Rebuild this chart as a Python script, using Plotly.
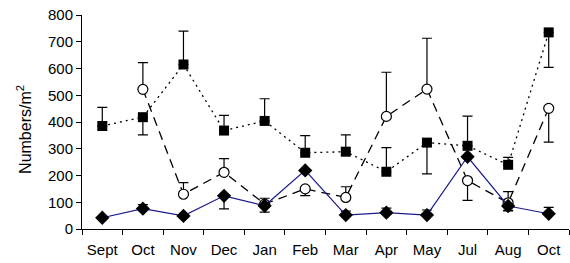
import plotly.graph_objects as go

months = ["Sept", "Oct", "Nov", "Dec", "Jan", "Feb", "Mar", "Apr", "May", "Jul", "Aug", "Oct "]
tick_text = ["Sept", "Oct", "Nov", "Dec", "Jan", "Feb", "Mar", "Apr", "May", "Jul", "Aug", "Oct"]

sq_vals = [385, 418, 615, 368, 404, 285, 289, 214, 323, 311, 240, 735]
sq_up = [70, 0, 125, 57, 83, 64, 63, 90, 0, 111, 28, 0]
sq_down = [0, 66, 0, 0, 0, 0, 0, 0, 117, 0, 0, 131]

ci_vals = [None, 522, 130, 212, 93, 150, 118, 421, 523, 181, 98, 451]
ci_up = [0, 100, 43, 51, 22, 0, 40, 165, 190, 0, 42, 0]
ci_down = [0, 0, 0, 0, 30, 25, 0, 0, 0, 74, 28, 126]

di_vals = [42, 76, 49, 124, 87, 219, 52, 61, 52, 270, 86, 57]
di_up = [0, 15, 0, 0, 0, 0, 15, 17, 19, 0, 0, 24]
di_down = [0, 0, 0, 49, 0, 0, 0, 0, 0, 0, 18, 0]

fig = go.Figure()

fig.add_trace(go.Scatter(
    x=months, y=sq_vals, mode="lines+markers",
    line=dict(color="black", width=1.3, dash="2px,4px"),
    marker=dict(symbol="square", size=10, color="black"),
    error_y=dict(type="data", symmetric=False, array=sq_up, arrayminus=sq_down,
                 color="black", thickness=1.2, width=5),
))

fig.add_trace(go.Scatter(
    x=months, y=ci_vals, mode="lines+markers",
    line=dict(color="black", width=1.3, dash="9px,6px"),
    marker=dict(symbol="circle", size=10, color="white", line=dict(color="black", width=1.2)),
    error_y=dict(type="data", symmetric=False, array=ci_up, arrayminus=ci_down,
                 color="black", thickness=1.2, width=5),
))

fig.add_trace(go.Scatter(
    x=months, y=di_vals, mode="lines+markers",
    line=dict(color="#1a1a8c", width=1.2),
    marker=dict(symbol="diamond", size=11, color="black"),
    error_y=dict(type="data", symmetric=False, array=di_up, arrayminus=di_down,
                 color="black", thickness=1.2, width=5),
))

fig.update_layout(
    width=570, height=263,
    margin=dict(l=82, r=1, t=15, b=34, autoexpand=False),
    paper_bgcolor="white", plot_bgcolor="white",
    showlegend=False,
    font=dict(family="Liberation Sans, Arial, sans-serif", size=15, color="black"),
    annotations=[dict(
        text="Numbers/m<sup>2</sup>", textangle=-90, showarrow=False,
        xref="paper", yref="paper", x=(24 - 82) / 487, y=0.463,
        xanchor="center", yanchor="middle", font=dict(size=16, color="black"),
    )],
)

fig.update_xaxes(
    type="category", range=[-0.5, 11.5], automargin=False, tickangle=0,
    tickmode="array", tickvals=months, ticktext=tick_text, ticklabelstandoff=7,
    tickson="boundaries", ticks="outside", ticklen=5, tickcolor="black", tickwidth=1,
    showline=True, linecolor="black", linewidth=1, showgrid=False, zeroline=False,
    tickfont=dict(size=15),
)

fig.update_yaxes(
    range=[0, 800], tickmode="array", tickvals=list(range(0, 801, 100)), automargin=False,
    ticks="outside", ticklen=5, tickcolor="black", tickwidth=1,
    showline=True, linecolor="black", linewidth=1, showgrid=False, zeroline=False,
    tickfont=dict(size=15),
)

fig.write_html("out.html", config={"displayModeBar": False},
               post_script="document.body.style.margin='0';")
